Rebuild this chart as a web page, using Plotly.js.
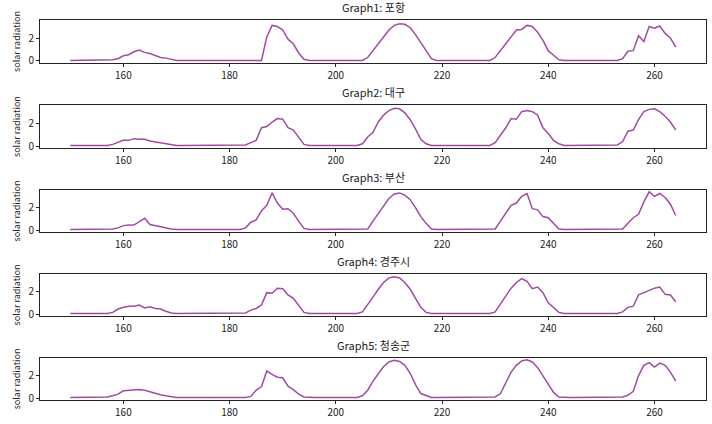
<!DOCTYPE html>
<html>
<head>
<meta charset="utf-8">
<script src="https://cdn.plot.ly/plotly-3.0.1.min.js"></script>
<style>html,body{margin:0;padding:0;background:#fff}#chart{width:712px;height:424px}</style>
</head>
<body>
<div id="chart"></div>
<script>
// 일자(150~264)별 일사량, 지점별
const DAYS = Array.from({ length: 115 }, (_, i) => 150 + i);
const TITLES = ['Graph1: 포항', 'Graph2: 대구', 'Graph3: 부산', 'Graph4: 경주시', 'Graph5: 청송군'];
const Z10 = [0.05, 0.05, 0.05, 0.05, 0.05, 0.05, 0.05, 0.05, 0.05, 0.05];

const POHANG = [
  0.05, 0.05, 0.05, 0.05, 0.05, 0.05, 0.05, 0.05, 0.1, 0.2,
  0.45, 0.55, 0.8, 0.95, 0.75, 0.65, 0.45, 0.3, 0.25, 0.15,
  ...Z10,
  0.05, 0.05, 0.05, 0.05, 0.05, 0.05, 0.05, 2.1, 3.1, 3.0,
  2.7, 1.9, 1.5, 0.7, 0.15, 0.05, 0.05, 0.05, 0.05, 0.05,
  0.05, 0.05, 0.05, 0.05, 0.05, 0.05, 0.3, 0.9, 1.5, 2.1,
  2.7, 3.1, 3.25, 3.2, 2.9, 2.3, 1.6, 0.8, 0.2, 0.05,
  ...Z10,
  0.3, 0.9, 1.6, 2.2, 2.7, 2.75, 3.1, 3.0, 2.5, 1.8,
  0.9, 0.5, 0.1, 0.05, 0.05, 0.05, 0.05, 0.05, 0.05, 0.05,
  0.05, 0.05, 0.05, 0.05, 0.2, 0.85, 0.9, 2.2, 1.7, 3.0,
  2.85, 3.05, 2.4, 2.0, 1.2,
];
const DAEGU = [
  0.05, 0.05, 0.05, 0.05, 0.05, 0.05, 0.05, 0.05, 0.15, 0.3,
  0.5, 0.5, 0.65, 0.6, 0.6, 0.45, 0.38, 0.3, 0.25, 0.15,
  ...Z10,
  0.05, 0.05, 0.05, 0.1, 0.3, 0.5, 1.6, 1.7, 2.1, 2.4,
  2.35, 1.6, 1.4, 0.8, 0.15, 0.05, 0.05, 0.05, 0.05, 0.05,
  0.05, 0.05, 0.05, 0.05, 0.05, 0.2, 0.8, 1.2, 2.1, 2.7,
  3.1, 3.3, 3.25, 2.9, 2.3, 1.5, 0.6, 0.2, 0.05, 0.05,
  ...Z10,
  0.3, 0.9, 1.6, 2.4, 2.35, 3.0, 3.1, 3.0, 2.7, 1.6,
  1.1, 0.5, 0.2, 0.05, 0.05, 0.05, 0.05, 0.05, 0.05, 0.05,
  0.05, 0.05, 0.05, 0.1, 0.4, 1.3, 1.4, 2.3, 3.0, 3.2,
  3.25, 3.0, 2.6, 2.1, 1.4,
];
const BUSAN = [
  0.05, 0.05, 0.05, 0.05, 0.05, 0.05, 0.05, 0.05, 0.1, 0.2,
  0.4, 0.45, 0.45, 0.75, 1.05, 0.5, 0.4, 0.3, 0.15, 0.1,
  ...Z10,
  0.05, 0.05, 0.05, 0.2, 0.7, 0.9, 1.7, 2.2, 3.3, 2.4,
  1.85, 1.9, 1.5, 0.8, 0.15, 0.05, 0.05, 0.05, 0.05, 0.05,
  0.05, 0.05, 0.05, 0.05, 0.05, 0.05, 0.1, 0.8, 1.5, 2.2,
  2.8, 3.2, 3.3, 3.1, 2.7, 2.0, 1.2, 0.6, 0.1, 0.05,
  ...Z10,
  0.1, 0.8, 1.5, 2.2, 2.4, 3.0, 3.25, 1.9, 1.8, 1.2,
  1.1, 0.6, 0.1, 0.05, 0.05, 0.05, 0.05, 0.05, 0.05, 0.05,
  0.05, 0.05, 0.05, 0.05, 0.1, 0.6, 1.1, 1.4, 2.5, 3.4,
  3.0, 3.25, 2.9, 2.3, 1.3,
];
const GYEONGJU = [
  0.05, 0.05, 0.05, 0.05, 0.05, 0.05, 0.05, 0.05, 0.15, 0.45,
  0.6, 0.7, 0.7, 0.8, 0.55, 0.65, 0.5, 0.45, 0.25, 0.1,
  ...Z10,
  0.05, 0.05, 0.05, 0.1, 0.35, 0.5, 0.8, 1.9, 1.85, 2.3,
  2.25, 1.7, 1.4, 0.8, 0.15, 0.05, 0.05, 0.05, 0.05, 0.05,
  0.05, 0.05, 0.05, 0.05, 0.05, 0.2, 0.8, 1.5, 2.2, 2.8,
  3.2, 3.3, 3.2, 2.8, 2.2, 1.4, 0.6, 0.15, 0.05, 0.05,
  ...Z10,
  0.2, 0.9, 1.5, 2.3, 2.8, 3.15, 2.9, 2.25, 2.4, 1.9,
  1.0, 0.6, 0.15, 0.05, 0.05, 0.05, 0.05, 0.05, 0.05, 0.05,
  0.05, 0.05, 0.05, 0.05, 0.2, 0.6, 0.7, 1.7, 1.9, 2.1,
  2.3, 2.4, 1.75, 1.7, 1.1,
];
const CHEONGSONG = [
  0.05, 0.05, 0.05, 0.05, 0.05, 0.05, 0.05, 0.1, 0.2, 0.35,
  0.65, 0.7, 0.75, 0.75, 0.7, 0.55, 0.45, 0.3, 0.2, 0.1,
  ...Z10,
  0.05, 0.05, 0.05, 0.05, 0.15, 0.7, 1.0, 2.4, 2.1, 1.85,
  1.8, 1.05, 0.75, 0.35, 0.1, 0.05, 0.05, 0.05, 0.05, 0.05,
  0.05, 0.05, 0.05, 0.05, 0.05, 0.2, 0.7, 1.5, 2.2, 2.8,
  3.2, 3.35, 3.25, 2.9, 2.2, 1.2, 0.4, 0.2, 0.05, 0.05,
  ...Z10,
  0.1, 0.4, 1.3, 2.3, 2.9, 3.3, 3.4, 3.2, 2.7, 2.0,
  1.2, 0.5, 0.1, 0.05, 0.05, 0.05, 0.05, 0.05, 0.05, 0.05,
  0.05, 0.05, 0.05, 0.05, 0.1, 0.25, 0.6, 2.0, 2.9, 3.15,
  2.75, 3.1, 2.9, 2.3, 1.5,
];
const SERIES = [POHANG, DAEGU, BUSAN, GYEONGJU, CHEONGSONG];

const FONT = '"Noto Sans CJK KR", "Noto Sans", sans-serif';
const LINE = '#a04ba3';
// 패널 세로 영역 (paper 좌표, 위→아래)
const DOMAINS = [[0.887, 1], [0.663, 0.776], [0.442, 0.553], [0.221, 0.332], [0, 0.111]];

const traces = [];
const layout = {
  width: 712, height: 424,
  margin: { l: 40, r: 6, t: 20, b: 24 },
  paper_bgcolor: '#fff', plot_bgcolor: '#fff',
  font: { family: FONT, color: '#222', size: 10 },
  showlegend: false,
  annotations: [],
};

SERIES.forEach((ys, i) => {
  const n = i === 0 ? '' : String(i + 1);
  traces.push({ x: DAYS, y: ys, xaxis: 'x' + n, yaxis: 'y' + n, mode: 'lines', line: { color: LINE, width: 1.5 } });
  layout['xaxis' + n] = {
    domain: [0, 1], anchor: 'y' + n, range: [144.3, 269.7], tickvals: [160, 180, 200, 220, 240, 260],
    showgrid: false, zeroline: false, showline: true, mirror: true, linecolor: '#222', linewidth: 1,
    ticks: 'outside', ticklen: 3, tickcolor: '#222', tickfont: { size: 10 },
  };
  layout['yaxis' + n] = {
    domain: DOMAINS[i], anchor: 'x' + n, range: [-0.17, 3.57], tickvals: [0, 2],
    showgrid: false, zeroline: false, showline: true, mirror: true, linecolor: '#222', linewidth: 1,
    ticks: 'outside', ticklen: 3, tickcolor: '#222', tickfont: { size: 10 },
    title: { text: 'solar radiation', font: { size: 9 }, standoff: 6 },
  };
  layout.annotations.push({
    text: TITLES[i], xref: 'paper', yref: 'paper', x: 0.5, y: DOMAINS[i][1], yshift: 3,
    xanchor: 'center', yanchor: 'bottom', showarrow: false, font: { size: 11, color: '#222' },
  });
});

Plotly.newPlot('chart', traces, layout, { displayModeBar: false, staticPlot: true });
</script>
</body>
</html>
